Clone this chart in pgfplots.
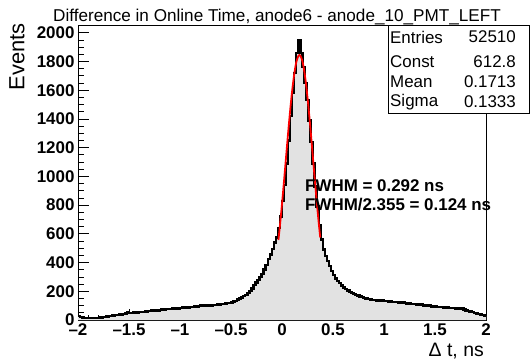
\documentclass[border=0pt]{standalone}
\usepackage{fontspec}
\setmainfont{Liberation Sans}
\usepackage{pgfplots}
\usepackage{pgfplotstable}
\pgfplotsset{compat=1.18}
\definecolor{histgray}{RGB}{226,226,226}
\pgfplotstableread{
x y
-2.00 26
-1.98 22
-1.96 18
-1.94 16
-1.92 14
-1.90 13
-1.88 12
-1.86 13
-1.84 12
-1.82 14
-1.80 16
-1.78 17
-1.76 19
-1.74 22
-1.72 24
-1.70 27
-1.68 29
-1.66 31
-1.64 33
-1.62 34
-1.60 37
-1.58 39
-1.56 42
-1.54 44
-1.52 52
-1.50 47
-1.48 49
-1.46 51
-1.44 50
-1.42 53
-1.40 55
-1.38 57
-1.36 56
-1.34 60
-1.32 62
-1.30 61
-1.28 66
-1.26 64
-1.24 68
-1.22 67
-1.20 70
-1.18 72
-1.16 71
-1.14 76
-1.12 78
-1.10 75
-1.08 80
-1.06 83
-1.04 81
-1.02 79
-1.00 84
-0.98 87
-0.96 85
-0.94 88
-0.92 86
-0.90 92
-0.88 89
-0.86 94
-0.84 91
-0.82 97
-0.80 104
-0.78 96
-0.76 100
-0.74 98
-0.72 103
-0.70 101
-0.68 106
-0.66 104
-0.64 109
-0.62 107
-0.60 112
-0.58 110
-0.56 116
-0.54 119
-0.52 117
-0.50 123
-0.48 128
-0.46 134
-0.44 142
-0.42 150
-0.40 158
-0.38 167
-0.36 176
-0.34 190
-0.32 203
-0.30 220
-0.28 243
-0.26 262
-0.24 280
-0.22 300
-0.20 322
-0.18 352
-0.16 385
-0.14 425
-0.12 455
-0.10 495
-0.08 540
-0.06 575
-0.04 640
-0.02 720
0.00 830
0.02 940
0.04 1090
0.06 1250
0.08 1420
0.10 1580
0.12 1720
0.14 1860
0.16 1950
0.18 1860
0.20 1760
0.22 1650
0.24 1530
0.26 1390
0.28 1240
0.30 1090
0.32 930
0.34 790
0.36 660
0.38 560
0.40 490
0.42 445
0.44 410
0.46 375
0.48 340
0.50 312
0.52 290
0.54 272
0.56 256
0.58 240
0.60 226
0.62 214
0.64 205
0.66 196
0.68 188
0.70 182
0.72 176
0.74 170
0.76 165
0.78 160
0.80 155
0.82 150
0.84 147
0.86 144
0.88 140
0.90 141
0.92 136
0.94 138
0.96 133
0.98 135
1.00 131
1.02 133
1.04 128
1.06 130
1.08 126
1.10 125
1.12 127
1.14 122
1.16 120
1.18 122
1.20 117
1.22 115
1.24 117
1.26 112
1.28 110
1.30 112
1.32 107
1.34 105
1.36 108
1.38 102
1.40 100
1.42 98
1.44 101
1.46 95
1.48 93
1.50 96
1.52 91
1.54 89
1.56 92
1.58 87
1.60 85
1.62 88
1.64 84
1.66 82
1.68 85
1.70 81
1.72 80
1.74 82
1.76 79
1.78 72
1.80 67
1.82 62
1.84 58
1.86 54
1.88 50
1.90 46
1.92 42
1.94 38
1.96 34
1.98 30
2.00 30
}\histdata
\begin{document}
\begin{tikzpicture}
\useasboundingbox (-78bp,-41bp) rectangle (452bp,320bp);
\begin{axis}[
  at={(0,0)}, anchor=south west,
  scale only axis, width=408bp, height=295bp,
  xmin=-2, xmax=2, ymin=0, ymax=2054,
  xtick={-2,-1.5,-1,-0.5,0,0.5,1,1.5,2},
  xticklabels={--2,--1.5,--1,--0.5,0,0.5,1,1.5,2},
  ytick={0,200,400,600,800,1000,1200,1400,1600,1800,2000},
  minor x tick num=4, minor y tick num=3,
  tick align=inside, xtick pos=bottom, ytick pos=left,
  major tick length=11bp, minor tick length=5.5bp,
  tick style={black, line width=0.7bp},
  axis line style={line width=0.8bp},
  ticklabel style={font=\fontsize{17}{17}\selectfont\bfseries},
  /pgf/number format/assume math mode=true,
  /pgf/number format/1000 sep={},
  scaled y ticks=false,
]
\addplot[const plot mark left, fill=histgray, draw=none] table[x=x,y=y] {\histdata} \closedcycle;
\addplot[const plot mark left, black, line width=2.4bp] table[x=x,y=y] {\histdata};
\addplot[red, line width=1.8bp, smooth] coordinates {
(-0.035,557) (-0.02,659) (0.00,808) (0.02,969) (0.04,1136) (0.06,1302) (0.08,1459)
(0.10,1599) (0.12,1713) (0.14,1795) (0.16,1838) (0.1713,1845) (0.18,1841)
(0.20,1803) (0.22,1726) (0.24,1615) (0.26,1479) (0.28,1323) (0.30,1158)
(0.32,990) (0.34,828) (0.36,677) (0.375,574)
};
\end{axis}
% title
\node[anchor=base, inner sep=0, font=\fontsize{17.2}{17.2}\selectfont] at (199bp,298bp) {Difference in Online Time, anode6 - anode\_10\_PMT\_LEFT};
% y label
\node[rotate=90, anchor=east, inner sep=0, font=\fontsize{22}{22}\selectfont] at (-61bp,297bp) {Events};
% x label
\node[anchor=east, inner sep=0, font=\fontsize{19.5}{19.5}\selectfont] at (406bp,-31bp) {Δ t, ns};
% stats box
\draw[line width=0.8bp, fill=white] (310bp,295bp) rectangle (451.6bp,207bp);
\begin{scope}[every node/.style={inner sep=0, font=\fontsize{17}{17}\selectfont}]
\node[anchor=west] at (312bp,283bp) {Entries};
\node[anchor=east] at (438bp,283bp) {52510};
\node[anchor=west] at (312bp,258bp) {Const};
\node[anchor=east] at (438bp,258bp) {612.8};
\node[anchor=west] at (312bp,238bp) {Mean};
\node[anchor=east] at (438bp,238bp) {0.1713};
\node[anchor=west] at (312bp,218bp) {Sigma};
\node[anchor=east] at (438bp,218bp) {0.1333};
\end{scope}
% FWHM text
\node[anchor=west, inner sep=0, font=\fontsize{17}{17}\selectfont\bfseries] at (227bp,134bp) {FWHM = 0.292 ns};
\node[anchor=west, inner sep=0, font=\fontsize{17}{17}\selectfont\bfseries] at (227bp,115bp) {FWHM/2.355 = 0.124 ns};
\end{tikzpicture}
\end{document}
